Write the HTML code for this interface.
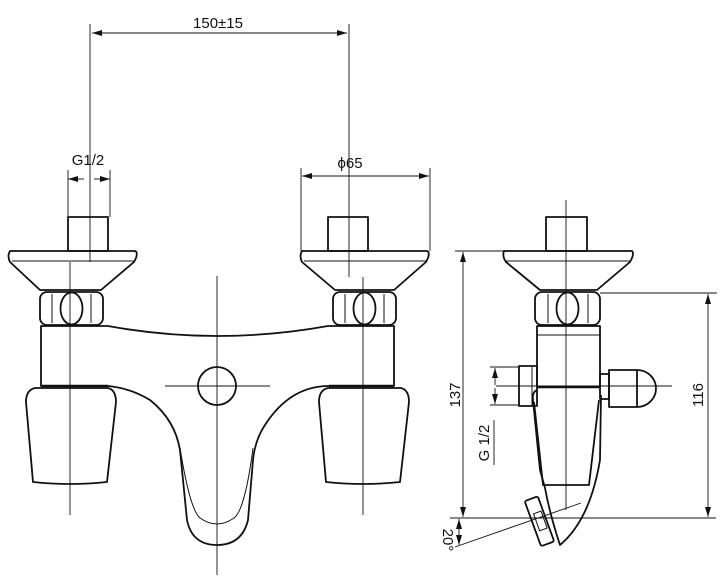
<!DOCTYPE html>
<html><head><meta charset="utf-8"><style>
html,body{margin:0;padding:0;background:#fff}
svg{display:block}
text{font-family:"Liberation Sans","DejaVu Sans",sans-serif;fill:#111}
</style></head><body>
<svg width="723" height="587" viewBox="0 0 723 587" xmlns="http://www.w3.org/2000/svg">
<defs>
<marker id="a" viewBox="0 0 10 6" refX="10" refY="3" markerWidth="10" markerHeight="6" orient="auto-start-reverse" markerUnits="userSpaceOnUse"><path d="M0,0 L10,3 L0,6z" fill="#111"/></marker>
</defs>
<g fill="none" stroke="#111" stroke-width="1.8" stroke-linejoin="round">
<rect x="68" y="217" width="40" height="34"/>
<path d="M10,251 H135 Q138,252 136,258 L134,262 L101,290 H40 L10,262 Q7,256 10,251z"/>
<line x1="12" y1="261" x2="134" y2="261" stroke-width="1"/>
<rect x="40" y="292" width="63" height="33" rx="7"/>
<line x1="52" y1="294" x2="52" y2="323" stroke-width="1"/>
<line x1="91" y1="294" x2="91" y2="323" stroke-width="1"/>
<ellipse cx="71.5" cy="308.5" rx="11" ry="16"/>
<rect x="328" y="217" width="40" height="34"/>
<path d="M302,251 H427 Q430,252 428,258 L426,262 L394,290 H335 L302,262 Q299,256 302,251z"/>
<line x1="304" y1="261" x2="426" y2="261" stroke-width="1"/>
<rect x="333" y="292" width="63" height="33" rx="7"/>
<line x1="345" y1="294" x2="345" y2="323" stroke-width="1"/>
<line x1="384" y1="294" x2="384" y2="323" stroke-width="1"/>
<ellipse cx="364.5" cy="308.5" rx="11" ry="16"/>
<path d="M41,326 H108 Q217,346 328,326 H394 V386 H329 Q290,386 265,425 Q255,440 253,460 L248,520 Q242,545 217,545 Q192,545 187,520 L180,450 Q175,420 150,400 Q130,388 108,386 H41z"/>
<path d="M180,448 Q190,510 200,518 Q217,530 234,518 Q245,510 253,448" stroke-width="1"/>
<line x1="41" y1="386" x2="108" y2="386" stroke-width="2.4"/>
<line x1="329" y1="386" x2="394" y2="386" stroke-width="2.4"/>
<path d="M35,388 H108 Q116,390 116,402 L107,482 Q70,486 33,482 L26,402 Q26,390 35,388z"/>
<path d="M328,388 H401 Q409,390 409,402 L400,482 Q363,486 326,482 L319,402 Q319,390 328,388z"/>
<circle cx="217" cy="386" r="19"/>
<rect x="546" y="217" width="41" height="34"/>
<path d="M504,251 H632 Q634,253 632,258 L630,262 L597,290 H540 L506,262 Q502,256 504,251z"/>
<line x1="506" y1="261" x2="630" y2="261" stroke-width="1"/>
<rect x="535" y="292" width="65" height="33" rx="7"/>
<line x1="548" y1="294" x2="548" y2="323" stroke-width="1"/>
<line x1="588" y1="294" x2="588" y2="323" stroke-width="1"/>
<ellipse cx="567.5" cy="308.5" rx="11" ry="16"/>
<rect x="537" y="326" width="63" height="61"/>
<line x1="537" y1="335" x2="600" y2="335" stroke-width="1"/>
<line x1="537" y1="387" x2="600" y2="387" stroke-width="2.4"/>
<rect x="519" y="366" width="18" height="40"/>
<line x1="532" y1="367" x2="532" y2="405" stroke-width="1"/>
<rect x="600" y="374" width="9" height="25"/>
<path d="M609,370 H637 V407 H609z"/>
<path d="M637,370 A19,18.5 0 0 1 637,407"/>
<path d="M537,390 Q532,392 533,400 L540,470 L545,488 Q550,515 560,545 Q590,520 600,460 L601,395"/>
<path d="M534,402 L543,485 H589 L599,400"/>
<g transform="rotate(-20 540 520)">
<rect x="532" y="497" width="14" height="48" rx="2"/>
<rect x="536" y="512" width="8" height="18" stroke-width="1"/>
</g>
</g>
<g stroke="#111" stroke-width="0.9" fill="none">
<line x1="90" y1="24" x2="90" y2="262"/>
<line x1="70" y1="262" x2="70" y2="515"/>
<line x1="349" y1="24" x2="349" y2="277"/>
<line x1="363" y1="277" x2="363" y2="515"/>
<line x1="217" y1="276" x2="217" y2="575"/>
<line x1="165" y1="386" x2="270" y2="386"/>
<line x1="566" y1="200" x2="566" y2="510"/>
<line x1="496" y1="386" x2="672" y2="386"/>
<line x1="92" y1="33" x2="347" y2="33" marker-start="url(#a)" marker-end="url(#a)"/>
<line x1="68" y1="170" x2="68" y2="217"/>
<line x1="110" y1="170" x2="110" y2="217"/>
<line x1="68" y1="179" x2="84" y2="179" marker-start="url(#a)"/>
<line x1="94" y1="179" x2="110" y2="179" marker-end="url(#a)"/>
<line x1="301" y1="168" x2="301" y2="251"/>
<line x1="430" y1="168" x2="430" y2="251"/>
<line x1="302" y1="176" x2="429" y2="176" marker-start="url(#a)" marker-end="url(#a)"/>
<line x1="455" y1="251" x2="504" y2="251"/>
<line x1="450" y1="518" x2="716" y2="518"/>
<line x1="463" y1="252" x2="463" y2="517" marker-start="url(#a)" marker-end="url(#a)"/>
<line x1="600" y1="293" x2="717" y2="293"/>
<line x1="708" y1="294" x2="708" y2="517" marker-start="url(#a)" marker-end="url(#a)"/>
<line x1="490" y1="367" x2="520" y2="367"/>
<line x1="490" y1="405" x2="520" y2="405"/>
<line x1="495" y1="368" x2="495" y2="385" marker-start="url(#a)"/>
<line x1="495" y1="388" x2="495" y2="404" marker-end="url(#a)"/>
<line x1="494" y1="420" x2="494" y2="465"/>
<line x1="455" y1="547" x2="581" y2="503"/>
<line x1="459" y1="519" x2="459" y2="545" marker-start="url(#a)" marker-end="url(#a)"/>
</g>
<g font-size="15">
<text x="218" y="28" text-anchor="middle">150±15</text>
<text x="88" y="165" text-anchor="middle">G1/2</text>
<text x="350" y="168" text-anchor="middle">ϕ65</text>
<text transform="translate(460 395) rotate(-90)" text-anchor="middle">137</text>
<text transform="translate(703 395) rotate(-90)" text-anchor="middle">116</text>
<text transform="translate(489 443) rotate(-90)" text-anchor="middle">G 1/2</text>
<text transform="translate(443 540) rotate(90)" text-anchor="middle">20°</text>
</g>
</svg>
</body></html>
